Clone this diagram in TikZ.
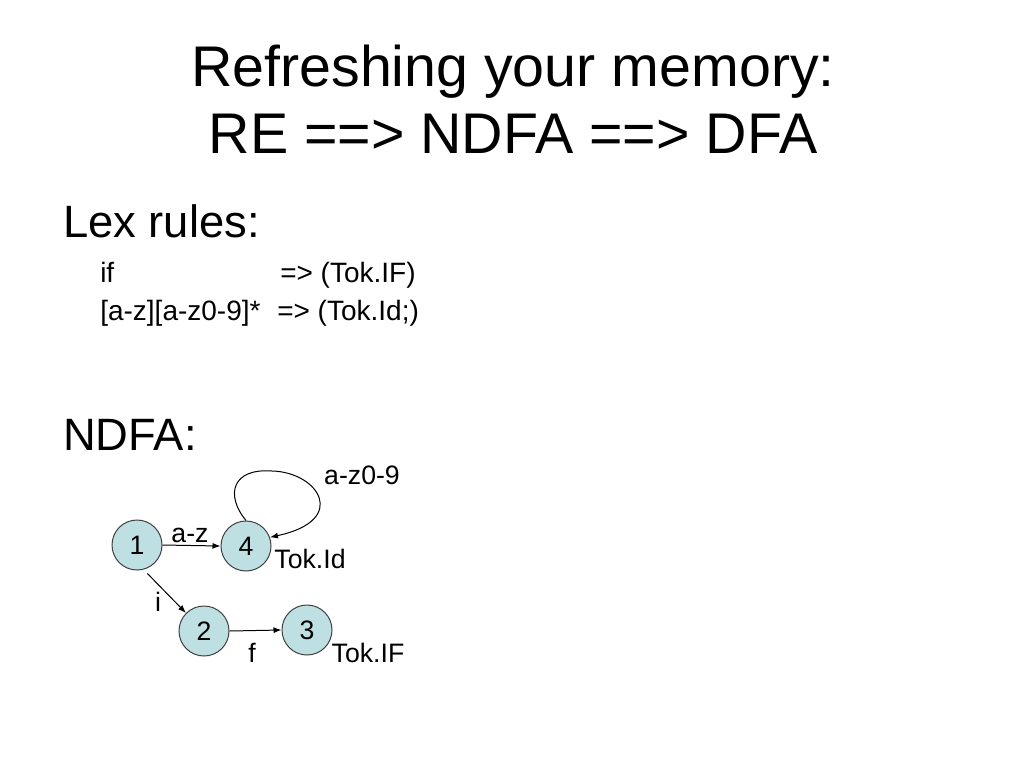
\documentclass[tikz,border=0pt]{standalone}
\usepackage{fontspec}
\setmainfont{Liberation Sans}
\usetikzlibrary{arrows.meta}
\definecolor{stfill}{RGB}{190,224,226}
\tikzstyle{state}=[circle, draw=black!75, fill=stfill, line width=0.75pt, minimum size=37.5pt, inner sep=0pt, font=\fontsize{20}{24}\selectfont]
\tikzstyle{lbl}=[inner sep=0pt, font=\fontsize{20}{24}\selectfont]
\tikzstyle{arr}=[line width=0.75pt, -{Latex[length=6pt,width=4.5pt]}]

\begin{document}
\begin{tikzpicture}[x=0.75pt, y=-0.75pt]
\useasboundingbox (0,0) rectangle (1024,768);
% Title
	\node[anchor=base, inner sep=0pt, font=\fontsize{43}{50}\selectfont] (title1) at (513,86) {Refreshing your memory:};
	\node[anchor=base, inner sep=0pt, font=\fontsize{43}{50}\selectfont] (title2) at (513,153) {RE ==> NDFA ==> DFA};
% Lex rules
	\node[anchor=base west, inner sep=0pt, font=\fontsize{34}{40}\selectfont] (lexhead) at (63,237) {Lex rules:};
	\node[anchor=base west, inner sep=0pt, font=\fontsize{21}{25}\selectfont] (rule1l) at (100,282) {if};
	\node[anchor=base west, inner sep=0pt, font=\fontsize{21}{25}\selectfont] (rule1r) at (280,282) {=> (Tok.IF)};
	\node[anchor=base west, inner sep=0pt, font=\fontsize{21}{25}\selectfont] (rule2l) at (100,320) {[a-z][a-z0-9]*};
	\node[anchor=base west, inner sep=0pt, font=\fontsize{21}{25}\selectfont] (rule2r) at (277,320) {=> (Tok.Id;)};
	\node[anchor=base west, inner sep=0pt, font=\fontsize{34}{40}\selectfont] (ndfahead) at (63,450) {NDFA:};
% States
	\node[state] (st1) at (137,545) {1};
	\node[state] (st4) at (246,546) {4};
	\node[state] (st2) at (204,631) {2};
	\node[state] (st3) at (307,630) {3};
% Transitions
	\draw[arr] (st1.east) -- (st4.west);
	\draw[arr, shorten <=4pt] (st1.-75) -- (st2.135);
	\draw[arr] (st2.east) -- (st3.west);
	\draw[arr] (st4.north) .. controls (225,495) and (232,468) .. (272,471)
		.. controls (318,472) and (350,520) .. (st4.20);
% Labels
	\node[lbl] (lbaz) at (190,535) {a-z};
	\node[lbl] (lbi) at (158,602) {i};
	\node[lbl] (lbf) at (252,653) {f};
	\node[lbl] (lbloop) at (362,475) {a-z0-9};
	\node[lbl] (lbid) at (310,559) {Tok.Id};
	\node[lbl] (lbif) at (368,653) {Tok.IF};
\end{tikzpicture}
\end{document}
